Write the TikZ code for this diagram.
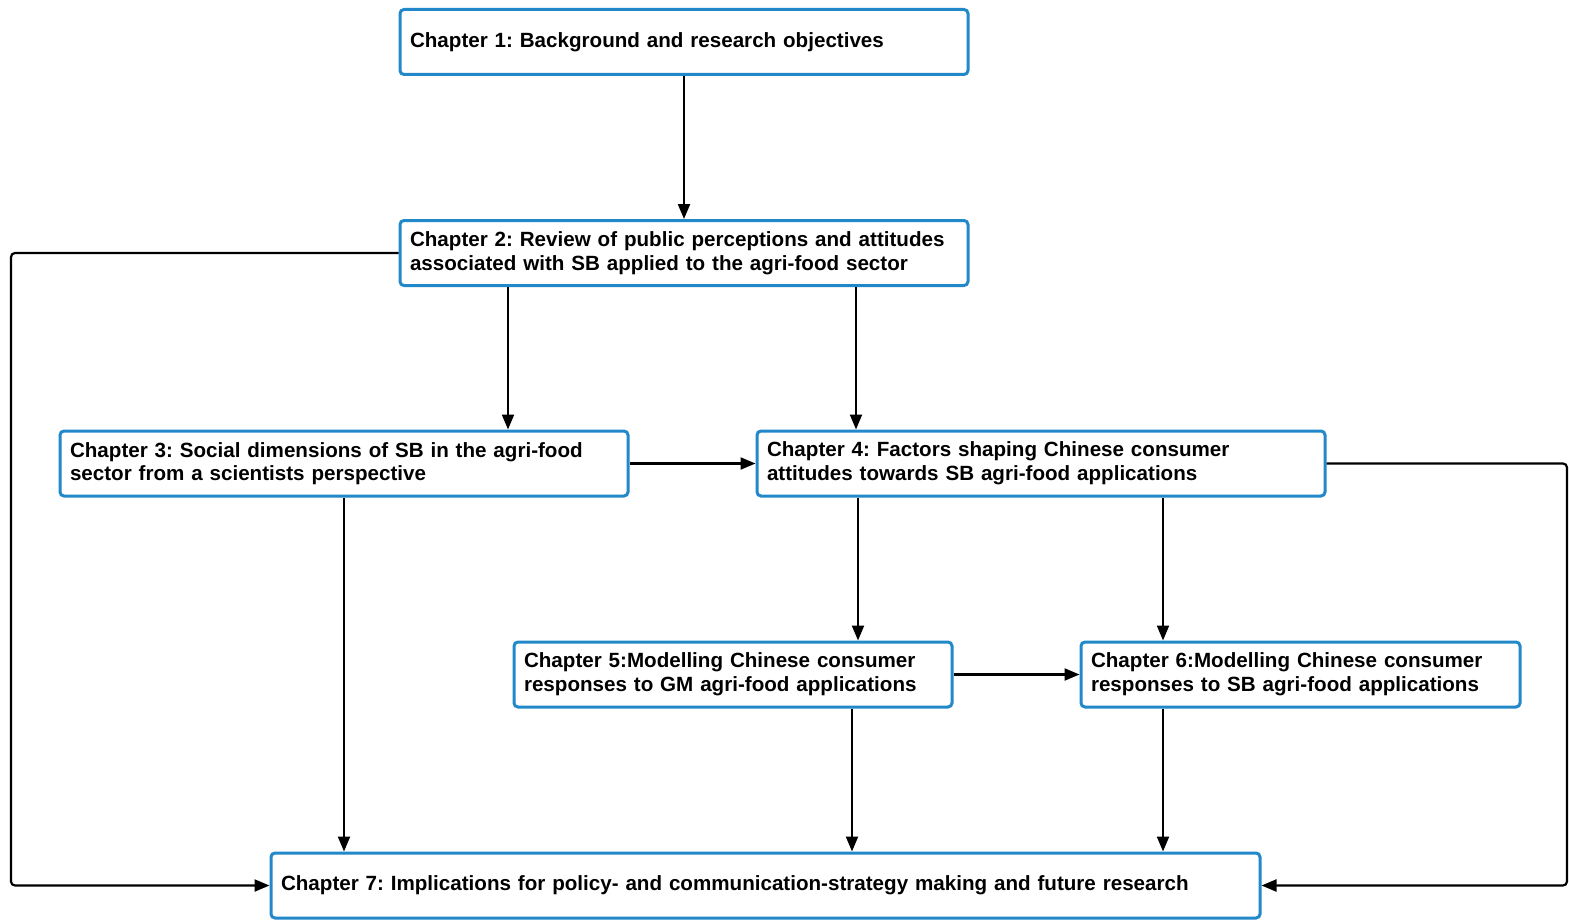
\documentclass[tikz,border=0pt]{standalone}
\usepackage{fontspec}
\setmainfont{Liberation Sans}
\usetikzlibrary{arrows.meta}
\definecolor{chapblue}{RGB}{33,136,201}

\begin{document}
\frenchspacing
\begin{tikzpicture}[x=0.5pt,y=-0.5pt,>={Triangle[length=7.5pt,width=6pt]},
    chap/.style={draw=chapblue,line width=1.5pt,rounded corners=2pt,fill=white,
      align=left,inner xsep=5pt,inner ysep=2pt,minimum height=32.5pt,
      font=\fontsize{10.3pt}{11.8pt}\selectfont\bfseries},
    link/.style={->,line width=1.1pt,rounded corners=2pt}]
    \useasboundingbox (0,0) rectangle (1569,920);
    % chapters
    \node[chap,text width=274pt] (c1) at (684,42)  {Chapter 1: Background and research objectives};
    \node[chap,text width=274pt] (c2) at (684,253) {Chapter 2: Review of public perceptions and attitudes\\associated with SB applied to the agri-food sector};
    \node[chap,text width=274pt] (c3) at (344,463.5)   {Chapter 3: Social dimensions of SB in the agri-food\\sector from a scientists perspective};
    \node[chap,text width=274pt] (c4) at (1041,463.5)  {Chapter 4: Factors shaping Chinese consumer\\attitudes towards SB agri-food applications};
    \node[chap,text width=209pt] (c5) at (733,674.5)   {Chapter 5:Modelling Chinese consumer\\responses to GM agri-food applications};
    \node[chap,text width=209.5pt] (c6) at (1300.5,674.5) {Chapter 6:Modelling Chinese consumer\\responses to SB agri-food applications};
    \node[chap,text width=484.5pt] (c7) at (765.5,885.5) {Chapter 7: Implications for policy- and communication-strategy making and future research};
    \coordinate (lbend) at (11,885.5);
    \coordinate (rbend) at (1567,885.5);
    % links
    \draw[link] (c1) -- (c2);
    \draw[link] (c2.south -| 508,0) -- (c3.north -| 508,0);
    \draw[link] (c2.south -| 856,0) -- (c4.north -| 856,0);
    \draw[link] (c3) -- (c4);
    \draw[link] (c2.west) -| (lbend) -- (c7.west);
    \draw[link] (c4.east) -| (rbend) -- (c7.east);
    \draw[link] (c3) -- (c3 |- c7.north);
    \draw[link] (c4.south -| 858,0) -- (c5.north -| 858,0);
    \draw[link] (c4.south -| 1163,0) -- (c6.north -| 1163,0);
    \draw[link] (c5) -- (c6);
    \draw[link] (c5.south -| 852,0) -- (c7.north -| 852,0);
    \draw[link] (c6.south -| 1163,0) -- (c7.north -| 1163,0);
\end{tikzpicture}
\end{document}
